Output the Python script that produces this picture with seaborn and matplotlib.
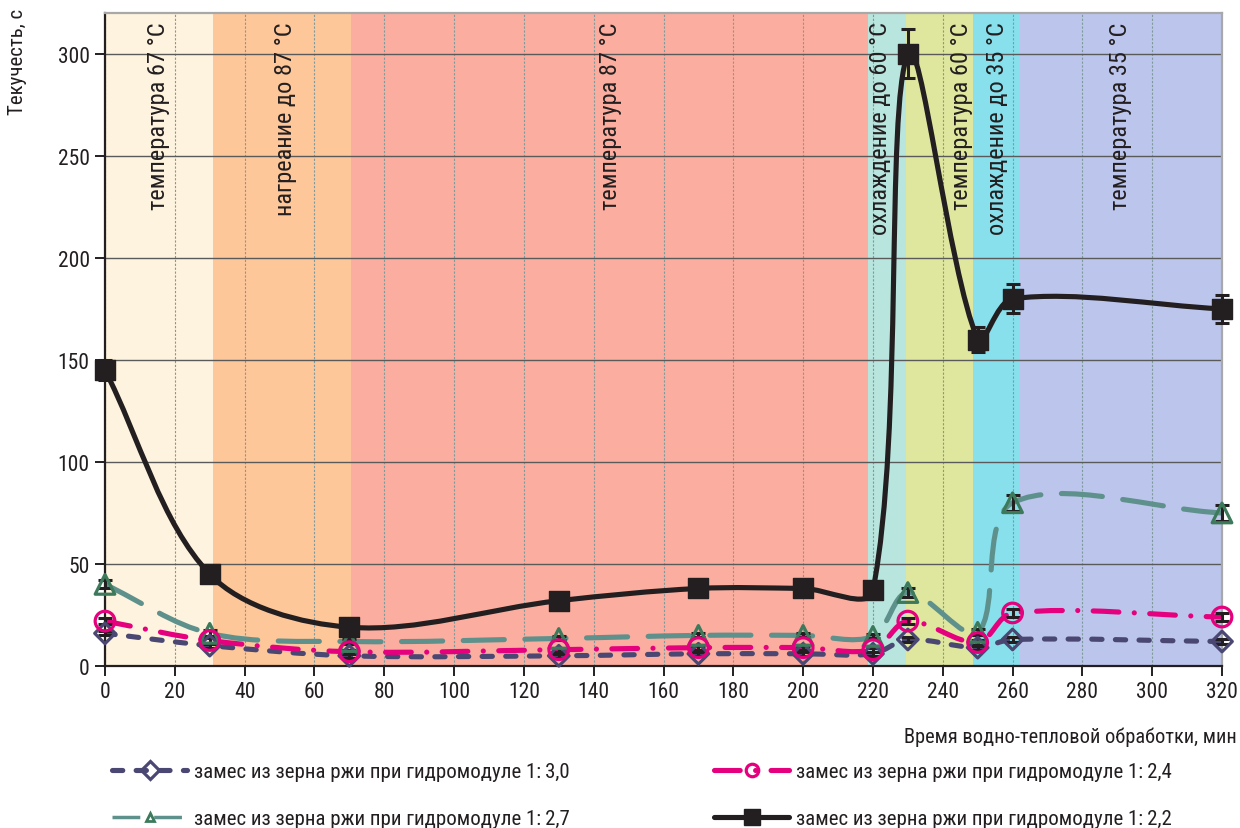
import numpy as np
import pandas as pd
import matplotlib
matplotlib.use("Agg")
import matplotlib.pyplot as plt
from matplotlib.path import Path
from matplotlib.patches import PathPatch
from matplotlib.lines import Line2D
from matplotlib import font_manager
import seaborn as sns

# ---------------- data ----------------
time_min = [0, 30, 70, 130, 170, 200, 220, 230, 250, 260, 320]
s30 = [16, 10, 5, 5, 6, 6, 6, 13, 9, 13, 12]          # 1:3,0
s27 = [40, 16, 12, 13.5, 15, 15, 14.5, 36, 16.5, 80, 75]  # 1:2,7
s24 = [22, 12.5, 7, 8, 9, 9, 8, 22, 11.5, 26, 24]     # 1:2,4
s22 = [145, 45, 19, 32, 38, 38, 37, 300, 160, 180, 175]  # 1:2,2

err30 = [1, 1, 1, 1, 1, 1, 1, 1, 1, 1, 1]
err27 = [2, 1.5, 1, 1, 1, 1, 1, 2, 1.5, 4, 4]
err24 = [1.5, 1, 1, 1, 1, 1, 1, 1.5, 1, 2, 2]
err22 = [5, 2, 2, 2, 2, 2, 2, 12, 6, 7, 7]

labels = ["замес из зерна ржи при гидромодуле 1:\u20093,0",
          "замес из зерна ржи при гидромодуле 1:\u20092,7",
          "замес из зерна ржи при гидромодуле 1:\u20092,4",
          "замес из зерна ржи при гидромодуле 1:\u20092,2"]

stage_edges = [0, 31, 70.5, 218.5, 229.5, 248.8, 262, 320]
stage_colors = ["#FEF3DE", "#FDC79A", "#FBAE9F", "#B8E5DD", "#DFE79E", "#87E0EC", "#BCC5EC"]
stage_labels = ["температура 67 °C", "нагреание до 87 °C", "температура 87 °C",
                "охлаждение до 60 °C", "температура 60 °C", "охлаждение до 35 °C",
                "температура 35 °C"]
stage_label_x = [15.2, 51.6, 144.8, 222.2, 245.5, 255.7, 291]

x_ticks = list(range(0, 261, 20)) + [280, 300, 320]
y_ticks = [0, 50, 100, 150, 200, 250, 300]

# ---------------- style ----------------
sns.set_theme(style="white")
fam = "DejaVu Sans"
for cand in ["Liberation Sans Narrow", "Roboto Condensed", "Liberation Sans"]:
    try:
        font_manager.findfont(font_manager.FontProperties(family=cand), fallback_to_default=False)
        fam = cand
        break
    except Exception:
        pass
plt.rcParams["font.family"] = [fam, "DejaVu Sans"]

fig = plt.figure(figsize=(12.4, 8.29), dpi=100)
ax = fig.add_axes([105 / 1240, 1 - 667 / 829, 1117 / 1240, 653 / 829])
ax.set_xlim(0, 320)
ax.set_ylim(0, 320)

for i in range(len(stage_colors)):
    ax.axvspan(stage_edges[i], stage_edges[i + 1], color=stage_colors[i], lw=0, zorder=0.1)

ax.set_axisbelow(True)
ax.set_xticks(x_ticks)
ax.set_yticks(y_ticks)
ax.yaxis.grid(True, color="#5a5a5a", lw=1.0)
ax.xaxis.grid(True, color="#7f9a9a", lw=0.8, ls=(0, (2, 1.5)))

for sp in ["left", "bottom"]:
    ax.spines[sp].set_color("#231F20")
    ax.spines[sp].set_linewidth(1.6)
for sp in ["top", "right"]:
    ax.spines[sp].set_color("#A8A8A8")
    ax.spines[sp].set_linewidth(1.6)

ax.tick_params(axis="both", direction="out", length=7, width=1.4, color="#231F20",
               labelsize=15.5, labelcolor="#231F20", pad=4, bottom=True, left=True)

for lab, xp in zip(stage_labels, stage_label_x):
    ax.text(xp, 316, lab, rotation=90, ha="center", va="top", fontsize=17.6,
            color="#231F20", zorder=1.5)

# ---------------- smooth curves ----------------
SX = 1117 / 320.0
SY = 653 / 320.0


def smooth_path(xs, ys):
    pts = np.column_stack([xs, ys]).astype(float)
    n = len(pts)

    def L(a, b):
        return np.hypot((b[0] - a[0]) * SX, (b[1] - a[1]) * SY)

    verts = [tuple(pts[0])]
    codes = [Path.MOVETO]
    for i in range(n - 1):
        p1, p2 = pts[i], pts[i + 1]
        p0 = pts[i - 1] if i > 0 else p1
        p3 = pts[i + 2] if i + 2 < n else p2
        l01, l12, l23 = L(p0, p1), L(p1, p2), L(p2, p3)
        f1 = l12 / (l01 + l12) if (l01 + l12) > 0 else 0.5
        f2 = l12 / (l12 + l23) if (l12 + l23) > 0 else 0.5
        c1 = p1 + (p2 - p0) * f1 / 3.0
        c2 = p2 - (p3 - p1) * f2 / 3.0
        verts += [tuple(c1), tuple(c2), tuple(p2)]
        codes += [Path.CURVE4] * 3
    return Path(verts, codes)


series = [
    dict(y=s30, e=err30, color="#4A4873", edge="#4A4873", marker="D", s=110, ls=(0, (2, 2.6)), cap="round"),
    dict(y=s27, e=err27, color="#5F918C", edge="#3D7A5C", marker="^", s=200, ls=(0, (8, 4)), cap="round"),
    dict(y=s24, e=err24, color="#E5007D", edge="#E5007D", marker="o", s=200, ls=(0, (5, 3, 0.01, 3)), cap="round"),
    dict(y=s22, e=err22, color="#231F20", edge="#231F20", marker="s", s=190, ls="-", cap="round"),
]

for k, sr in enumerate(series):
    patch = PathPatch(smooth_path(time_min, sr["y"]), facecolor="none", edgecolor=sr["color"],
                      lw=3.7, linestyle=sr["ls"], capstyle=sr["cap"], joinstyle="round",
                      zorder=3 + k * 0.1)
    ax.add_patch(patch)

for k, sr in enumerate(series):
    ax.errorbar(time_min, sr["y"], yerr=sr["e"], fmt="none", ecolor="#231F20",
                elinewidth=2.2, capsize=5, capthick=2.2, zorder=4 + k * 0.1, clip_on=False)
    df = pd.DataFrame({"t": time_min, "v": sr["y"]})
    if sr["marker"] == "s":
        sns.scatterplot(data=df, x="t", y="v", ax=ax, marker="s", s=sr["s"], color=sr["color"],
                        edgecolor=sr["color"], linewidth=1, zorder=5 + k * 0.1, clip_on=False, legend=False)
    else:
        sns.scatterplot(data=df, x="t", y="v", ax=ax, marker=sr["marker"], s=sr["s"], color=sr["edge"],
                        facecolor="none", edgecolor=sr["edge"], linewidth=2.3,
                        zorder=5 + k * 0.1, clip_on=False, legend=False)

ax.set_xlabel("")
ax.set_ylabel("")

fig.text(18 / 1240, 1 - 9 / 829, "Текучесть, с", rotation=90, ha="center", va="top",
         fontsize=15, color="#231F20")
fig.text(1237 / 1240, 1 - 737 / 829, "Время водно-тепловой обработки, мин", ha="right",
         va="center", fontsize=14.7, color="#231F20")

# ---------------- legend ----------------
handles = []
for sr in series:
    if sr["marker"] == "s":
        h = Line2D([], [], color=sr["color"], lw=3.7, ls="-", marker="s", markersize=11,
                   markerfacecolor=sr["color"], markeredgecolor=sr["color"])
    elif sr["marker"] == "^":
        h = Line2D([], [], color=sr["color"], lw=2.5, ls=(0, (8, 4)), marker="^", markersize=6,
                   markerfacecolor="none", markeredgecolor=sr["edge"], markeredgewidth=2)
    else:
        h = Line2D([], [], color=sr["color"], lw=3.7, ls=sr["ls"], dash_capstyle="round",
                   marker=sr["marker"], markersize=9, markerfacecolor="none",
                   markeredgecolor=sr["edge"], markeredgewidth=2.3)
    handles.append(h)

leg_kw = dict(frameon=False, fontsize=15, handlelength=3.6, handletextpad=0.35,
              labelspacing=1.35, borderaxespad=0, borderpad=0, labelcolor="#231F20")
leg1 = fig.legend(handles[:2], labels[:2], loc="upper left",
                  bbox_to_anchor=(112 / 1240, 1 - 763 / 829), **leg_kw)
leg2 = fig.legend(handles[2:], labels[2:], loc="upper left",
                  bbox_to_anchor=(714 / 1240, 1 - 763 / 829), **leg_kw)

fig.savefig("out.png", dpi=100)
